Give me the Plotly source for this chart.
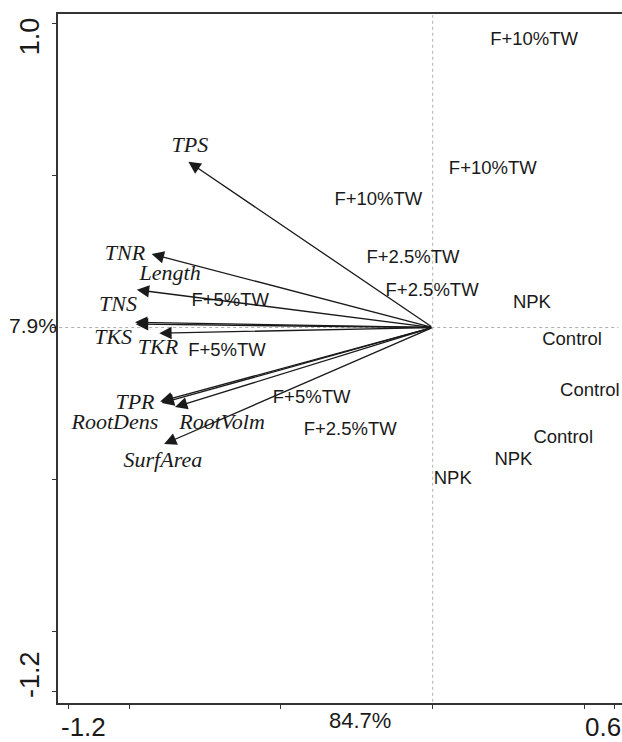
import plotly.graph_objects as go

# ---- data ----
var_names = ["TPS", "TNR", "Length", "TNS", "TKS", "TKR", "TPR", "RootDens", "RootVolm", "SurfArea"]
var_x = [-0.805, -0.926, -0.975, -0.981, -0.978, -0.901, -0.898, -0.893, -0.849, -0.885]
var_y = [0.546, 0.242, 0.124, 0.017, 0.011, -0.019, -0.244, -0.249, -0.262, -0.384]
lab_x = [-0.800, -1.014, -0.865, -1.037, -1.053, -0.905, -0.981, -1.047, -0.694, -0.889]
lab_y = [0.595, 0.239, 0.173, 0.074, -0.035, -0.068, -0.249, -0.315, -0.315, -0.443]

sample_names = ["F+10%TW", "F+10%TW", "F+10%TW",
                "F+2.5%TW", "F+2.5%TW", "F+2.5%TW",
                "F+5%TW", "F+5%TW", "F+5%TW",
                "NPK", "NPK", "NPK",
                "Control", "Control", "Control"]
sample_x = [0.334, 0.198, -0.179, -0.065, -0.002, -0.272, -0.667, -0.678, -0.399,
            0.327, 0.266, 0.066, 0.459, 0.518, 0.430]
sample_y = [0.947, 0.522, 0.420, 0.228, 0.119, -0.338, 0.085, -0.080, -0.233,
            0.080, -0.437, -0.500, -0.041, -0.212, -0.365]

x_ticks = [-1.2, -1.0, -0.5, 0.0, 0.5, 0.6]
y_ticks = [-1.2, -1.0, -0.5, 0.0, 0.5, 1.0]
x_range = [-1.2346, 0.6237]
y_range = [-1.2372, 1.0329]

x_tick_labels = ["-1.2", "84.7%", "0.6"]
x_tick_label_pos = [-1.152, -0.239, 0.561]
y_tick_labels = ["1.0", "-1.2"]
y_tick_label_pos = [0.960, -1.145]
y_axis_pct = "7.9%"

INK = "#1a1a1a"
AXIS = "#333333"

fig = go.Figure()

# dotted zero lines, kept just inside the plot frame
fig.add_trace(go.Scatter(x=[0, 0], y=[y_range[0] + 0.004, y_range[1] - 0.004], mode="lines",
                         line=dict(color="#b0b0b0", width=1, dash="dot"),
                         hoverinfo="skip", showlegend=False))
fig.add_trace(go.Scatter(x=[x_range[0] + 0.004, x_range[1] - 0.012], y=[0, 0], mode="lines",
                         line=dict(color="#b0b0b0", width=1, dash="dot"),
                         hoverinfo="skip", showlegend=False))

# sample labels
fig.add_trace(go.Scatter(
    x=sample_x, y=sample_y, mode="text", text=sample_names,
    textposition="middle center",
    textfont=dict(family="Liberation Sans, Arial", size=18.5, color=INK),
    hoverinfo="skip", showlegend=False))

# variable labels
fig.add_trace(go.Scatter(
    x=lab_x, y=lab_y, mode="text", text=var_names,
    textposition="middle center",
    textfont=dict(family="Liberation Serif, Times New Roman", size=22, color=INK, style="italic"),
    hoverinfo="skip", showlegend=False))

# arrows from origin
for vx, vy in zip(var_x, var_y):
    fig.add_annotation(x=vx, y=vy, ax=0, ay=0, xref="x", yref="y", axref="x", ayref="y",
                       text="", showarrow=True, arrowhead=2, arrowsize=1.9,
                       arrowwidth=1.3, arrowcolor=INK, standoff=0)

# axis labels (CANOCO style)
for t, p in zip(x_tick_labels, x_tick_label_pos):
    big = t != "84.7%"
    fig.add_annotation(x=p, y=-0.0348 if big else -0.0261, xref="x", yref="paper",
                       text=t, showarrow=False, xanchor="center", yanchor="middle",
                       font=dict(family="Liberation Sans, Arial", size=26 if big else 22, color=INK))
for t, p in zip(y_tick_labels, y_tick_label_pos):
    fig.add_annotation(x=-0.0496, y=p, xref="paper", yref="y", text=t, textangle=-90,
                       showarrow=False, xanchor="center", yanchor="middle",
                       font=dict(family="Liberation Sans, Arial", size=27, color=INK))
fig.add_annotation(x=-0.045, y=0.007, xref="paper", yref="y", text=y_axis_pct,
                   showarrow=False, xanchor="center", yanchor="middle",
                   font=dict(family="Liberation Sans, Arial", size=21, color=INK))

fig.update_xaxes(range=x_range, tickvals=x_ticks, showticklabels=False,
                 ticks="outside", ticklen=4, tickwidth=1.3, tickcolor=AXIS,
                 showline=True, linecolor=AXIS, linewidth=1.5, mirror=True,
                 showgrid=False, zeroline=False)
fig.update_yaxes(range=y_range, tickvals=y_ticks, showticklabels=False,
                 ticks="outside", ticklen=4, tickwidth=1.3, tickcolor=AXIS,
                 showline=True, linecolor=AXIS, linewidth=1.5, mirror=False,
                 showgrid=False, zeroline=False)

fig.update_layout(width=622, height=742, margin=dict(l=58, r=0, t=14, b=39),
                  plot_bgcolor="white", paper_bgcolor="white", showlegend=False)

fig.write_html("out.html")
